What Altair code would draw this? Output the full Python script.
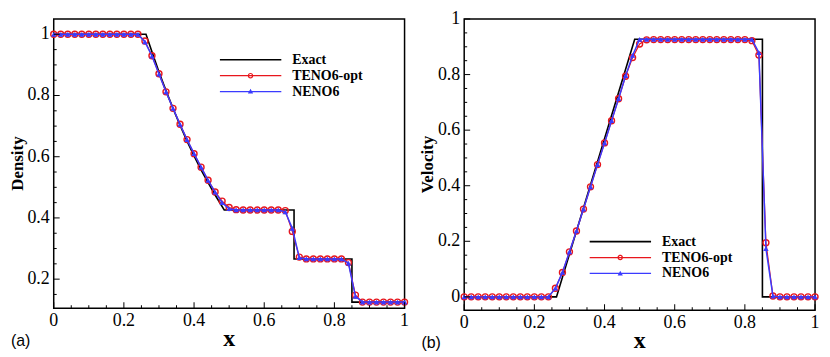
import altair as alt
import pandas as pd

SERIF = "Liberation Serif"
SANS = "Liberation Sans"
SERIES = ["Exact", "TENO6-opt", "NENO6"]
RED = "#e8161c"
BLUE = "#3b3bff"
COLORS = ["#000000", RED, BLUE]

X_NUM = [0.00, 0.02, 0.04, 0.06, 0.08, 0.10, 0.12, 0.14, 0.16, 0.18,
         0.20, 0.22, 0.24, 0.26, 0.28, 0.30, 0.32, 0.34, 0.36, 0.38,
         0.40, 0.42, 0.44, 0.46, 0.48, 0.50, 0.52, 0.54, 0.56, 0.58,
         0.60, 0.62, 0.64, 0.66, 0.68, 0.70, 0.72, 0.74, 0.76, 0.78,
         0.80, 0.82, 0.84, 0.86, 0.88, 0.90, 0.92, 0.94, 0.96, 0.98, 1.00]

RHO_TENO = [1.0, 1.0, 1.0, 1.0, 1.0, 1.0, 1.0, 1.0, 1.0, 1.0,
            1.0, 1.0, 1.0, 0.978, 0.930, 0.871, 0.812, 0.758, 0.706, 0.656,
            0.610, 0.566, 0.523, 0.485, 0.455, 0.434, 0.427, 0.426, 0.426, 0.426,
            0.426, 0.426, 0.426, 0.424, 0.356, 0.272, 0.266, 0.266, 0.266, 0.266,
            0.266, 0.266, 0.254, 0.148, 0.125, 0.125, 0.125, 0.125, 0.125, 0.125, 0.125]
RHO_NENO = [1.0, 1.0, 1.0, 1.0, 1.0, 1.0, 1.0, 1.0, 1.0, 1.0,
            1.0, 1.0, 1.0, 0.975, 0.929, 0.870, 0.812, 0.758, 0.706, 0.656,
            0.610, 0.566, 0.523, 0.484, 0.450, 0.430, 0.426, 0.426, 0.426, 0.426,
            0.426, 0.426, 0.426, 0.420, 0.366, 0.270, 0.266, 0.266, 0.266, 0.266,
            0.266, 0.266, 0.252, 0.144, 0.125, 0.125, 0.125, 0.125, 0.125, 0.125, 0.125]

U_TENO = [0.0, 0.0, 0.0, 0.0, 0.0, 0.0, 0.0, 0.0, 0.0, 0.0,
          0.0, 0.0, 0.0, 0.031, 0.088, 0.162, 0.237, 0.316, 0.396, 0.476,
          0.554, 0.634, 0.713, 0.794, 0.861, 0.910, 0.925, 0.926, 0.926, 0.926,
          0.926, 0.926, 0.926, 0.926, 0.926, 0.926, 0.926, 0.926, 0.926, 0.926,
          0.926, 0.922, 0.870, 0.195, 0.003, 0.0, 0.0, 0.0, 0.0, 0.0, 0.0]
U_NENO = [0.0, 0.0, 0.0, 0.0, 0.0, 0.0, 0.0, 0.0, 0.0, 0.0,
          0.0, 0.0, 0.0, 0.031, 0.088, 0.162, 0.237, 0.316, 0.396, 0.476,
          0.554, 0.634, 0.713, 0.796, 0.869, 0.927, 0.927, 0.927, 0.927, 0.927,
          0.927, 0.927, 0.927, 0.927, 0.927, 0.927, 0.927, 0.927, 0.927, 0.927,
          0.927, 0.927, 0.879, 0.174, 0.003, 0.0, 0.0, 0.0, 0.0, 0.0, 0.0]

X_EXACT_RHO = [0.0, 0.263, 0.28, 0.30, 0.32, 0.34, 0.36, 0.38, 0.40, 0.42, 0.44, 0.46,
               0.486, 0.685, 0.685, 0.850, 0.850, 1.0]
RHO_EXACT = [1.0, 1.0, 0.943, 0.877, 0.816, 0.758, 0.703, 0.651, 0.603, 0.557, 0.515, 0.475,
             0.426, 0.426, 0.266, 0.266, 0.125, 0.125]
X_EXACT_U = [0.0, 0.263, 0.486, 0.850, 0.850, 1.0]
U_EXACT = [0.0, 0.0, 0.927, 0.927, 0.0, 0.0]

X_MAJOR = [0.0, 0.2, 0.4, 0.6, 0.8, 1.0]
X_LABELS = ["0", "0.2", "0.4", "0.6", "0.8", "1"]
X_MINOR = [0.05, 0.1, 0.15, 0.25, 0.3, 0.35, 0.45, 0.5, 0.55, 0.65, 0.7, 0.75, 0.85, 0.9, 0.95]
RHO_MAJOR = [0.2, 0.4, 0.6, 0.8, 1.0]
RHO_LABELS = ["0.2", "0.4", "0.6", "0.8", "1"]
RHO_MINOR = [0.15, 0.25, 0.3, 0.35, 0.45, 0.5, 0.55, 0.65, 0.7, 0.75, 0.85, 0.9, 0.95]
U_MAJOR = [0.0, 0.2, 0.4, 0.6, 0.8, 1.0]
U_LABELS = ["0", "0.2", "0.4", "0.6", "0.8", "1"]
U_MINOR = [0.05, 0.1, 0.15, 0.25, 0.3, 0.35, 0.45, 0.5, 0.55, 0.65, 0.7, 0.75, 0.85, 0.9, 0.95]

LINE_E = "M-1,-0.026H1V0.026H-1Z"
LINE = "M-1,-0.02H1V0.02H-1Z"
RING = ("M0.09,0A0.09,0.09 0 1 1 -0.09,0A0.09,0.09 0 1 1 0.09,0Z"
        "M0.05,0A0.05,0.05 0 1 0 -0.05,0A0.05,0.05 0 1 0 0.05,0Z")
TRI = "M0,-0.09L0.085,0.065L-0.085,0.065Z"
PATHS = [LINE_E, LINE + RING, LINE + TRI]


def panel(tag, ytitle, x_ex, y_ex, y_teno, y_neno, y_major, y_labels, y_minor, ydomain,
          W, H, legx, legy):
    xs = alt.Scale(domain=[0, 1], nice=False, zero=False)
    ys = alt.Scale(domain=ydomain, nice=False, zero=False)
    X = alt.X("x:Q", scale=xs, axis=None)
    Y = alt.Y("y:Q", scale=ys, axis=None)

    ex_df = pd.DataFrame({"x": x_ex, "y": y_ex, "i": list(range(len(x_ex)))})
    teno_df = pd.DataFrame({"x": X_NUM, "y": y_teno})
    neno_df = pd.DataFrame({"x": X_NUM, "y": y_neno})

    exact = alt.Chart(ex_df).mark_line(color="black", strokeWidth=1.6).encode(X, Y, order="i:Q")
    teno_l = alt.Chart(teno_df).mark_line(color=RED, strokeWidth=1.2).encode(X, Y)
    teno_p = alt.Chart(teno_df).mark_point(shape="circle", filled=False, color=RED, size=36,
                                           strokeWidth=1.4, opacity=1).encode(X, Y)
    neno_l = alt.Chart(neno_df).mark_line(color=BLUE, strokeWidth=1.5).encode(X, Y)
    neno_p = alt.Chart(neno_df).mark_point(shape="triangle-up", filled=True, color=BLUE, size=30,
                                           opacity=1).encode(X, Y)

    bx_major = alt.Chart(pd.DataFrame({"x": X_MAJOR})).mark_rule(color="black", strokeWidth=1).encode(
        X, y=alt.value(H), y2=alt.value(H - 6))
    bx_minor = alt.Chart(pd.DataFrame({"x": X_MINOR})).mark_rule(color="black", strokeWidth=1).encode(
        X, y=alt.value(H), y2=alt.value(H - 3))
    ly_major = alt.Chart(pd.DataFrame({"y": y_major})).mark_rule(color="black", strokeWidth=1).encode(
        Y, x=alt.value(0), x2=alt.value(6))
    ly_minor = alt.Chart(pd.DataFrame({"y": y_minor})).mark_rule(color="black", strokeWidth=1).encode(
        Y, x=alt.value(0), x2=alt.value(3))

    bx_lab = alt.Chart(pd.DataFrame({"x": X_MAJOR, "t": X_LABELS})).mark_text(
        font=SERIF, fontSize=18, color="black", align="center", baseline="top").encode(
        X, y=alt.value(H + 4), text="t:N")
    ly_lab = alt.Chart(pd.DataFrame({"y": y_major, "t": y_labels})).mark_text(
        font=SERIF, fontSize=18, color="black", align="right", baseline="middle").encode(
        Y, x=alt.value(-4), text="t:N")
    xt = alt.Chart(pd.DataFrame({"t": ["x"]})).mark_text(
        font=SERIF, fontSize=24, fontWeight="bold", color="black", align="center",
        baseline="alphabetic").encode(text="t:N", x=alt.value(W / 2), y=alt.value(H + 38))
    yt = alt.Chart(pd.DataFrame({"t": [ytitle]})).mark_text(
        font=SERIF, fontSize=17, fontWeight="bold", color="black", align="center",
        baseline="middle", angle=270).encode(text="t:N", x=alt.value(-36), y=alt.value(H / 2))

    leg = alt.Legend(orient="none", legendX=legx, legendY=legy, title=None,
                     labelFont=SERIF, labelFontWeight="bold", labelFontSize=14, labelColor="black",
                     symbolSize=3844, symbolStrokeWidth=0, symbolOpacity=1, clipHeight=16,
                     labelOffset=11, rowPadding=0, padding=0)
    cs = alt.Scale(domain=SERIES, range=COLORS)
    ss = alt.Scale(domain=SERIES, range=PATHS)
    legend_layer = alt.Chart(pd.DataFrame({"s": SERIES})).mark_point(filled=True, opacity=0).encode(
        x=alt.value(0), y=alt.value(0),
        color=alt.Color("s:N", scale=cs, legend=leg),
        shape=alt.Shape("s:N", scale=ss, legend=leg))

    label = alt.Chart(pd.DataFrame({"t": [tag]})).mark_text(
        align="left", baseline="alphabetic", font=SANS, fontSize=16, color="black").encode(
        text="t:N", x=alt.value(-43), y=alt.value(H + 38))

    return alt.layer(exact, teno_l, teno_p, neno_l, neno_p, bx_major, bx_minor, ly_major, ly_minor,
                     bx_lab, ly_lab, xt, yt, legend_layer, label).properties(width=W, height=H)


left = panel("(a)", "Density", X_EXACT_RHO, RHO_EXACT, RHO_TENO, RHO_NENO, RHO_MAJOR, RHO_LABELS,
             RHO_MINOR, [0.105, 1.05], 353, 291, 167, 33)
right = panel("(b)", "Velocity", X_EXACT_U, U_EXACT, U_TENO, U_NENO, U_MAJOR, U_LABELS, U_MINOR,
              [-0.048, 1.0], 353, 293, 126, 216)

chart = alt.hconcat(left, right, spacing=60, bounds="flush").resolve_scale(
    x="independent", y="independent", color="independent", shape="independent"
).resolve_legend(color="independent", shape="independent").configure_view(
    stroke="black", strokeWidth=1.5
).properties(padding={"left": 0, "top": 0, "right": 0, "bottom": 0}, background="white")

chart.save("out.html", embed_options={"renderer": "svg", "actions": False})
